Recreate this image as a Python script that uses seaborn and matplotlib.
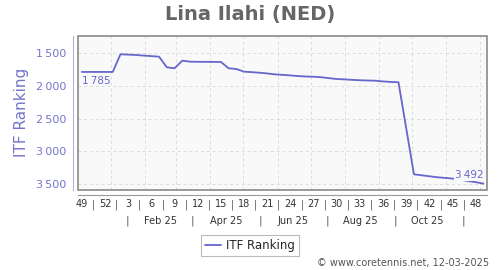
import pandas as pd
import matplotlib
matplotlib.use("Agg")
import matplotlib.pyplot as plt
import matplotlib.dates as mdates
import matplotlib.transforms as mtransforms
from matplotlib.patches import Rectangle
from matplotlib.lines import Line2D
import seaborn as sns

# === DATA ===
weeks = [49, 50, 51, 52, 1, 2, 3, 4, 5, 6, 7, 8, 9, 10, 11, 12, 13, 14, 15, 16,
         17, 18, 19, 20, 21, 22, 23, 24, 25, 26, 27, 28, 29, 30, 31, 32, 33, 34,
         35, 36, 37, 38, 39, 40, 41, 42, 43, 44, 45, 46, 47, 48, 49]
ranking = [1785, 1785, 1785, 1785, 1785, 1515, 1520, 1526, 1535, 1543, 1552,
           1714, 1729, 1613, 1628, 1630, 1631, 1632, 1632, 1729, 1740, 1781,
           1788, 1797, 1808, 1822, 1830, 1838, 1848, 1855, 1858, 1866, 1880,
           1893, 1899, 1906, 1912, 1916, 1919, 1930, 1938, 1943, 2646, 3350,
           3365, 3380, 3395, 3405, 3415, 3432, 3453, 3470, 3492]
first_week_start = "2024-12-02"
y_ticks = [1500, 2000, 2500, 3000, 3500]
month_labels = ["Feb 25", "Apr 25", "Jun 25", "Aug 25", "Oct 25"]
month_label_dates = ["2025-02-15", "2025-04-15", "2025-06-15", "2025-08-15", "2025-10-15"]
month_sep_dates = ["2025-01-16", "2025-03-16", "2025-05-16", "2025-07-16", "2025-09-16", "2025-11-16"]

line_col = "#6666cc"
tick_col = "#7474cc"

df = pd.DataFrame({
    "date": pd.date_range(first_week_start, periods=len(weeks), freq="7D") + pd.Timedelta(hours=84),
    "week": weeks,
    "rank": ranking,
})

# === FIGURE ===
sns.set_style("white")
plt.rcParams["font.family"] = ["DejaVu Sans"]
fig = plt.figure(figsize=(5, 2.7), dpi=100)
ax = fig.add_axes([0.156, 0.2963, 0.8186, 0.5722])
ax.set_facecolor("#f9f9f9")

sns.lineplot(data=df, x="date", y="rank", ax=ax, color=line_col, lw=1.3, legend=False)

x0 = pd.Timestamp(first_week_start)
ax.set_xlim(x0, x0 + pd.Timedelta(days=371))
ax.set_ylim(3590, 1228)

# grid
ax.xaxis.set_major_locator(mdates.MonthLocator())
ax.set_xticklabels([])
ax.set_yticks(y_ticks)
ax.set_yticklabels([f"{v:,}".replace(",", "\u2009") for v in y_ticks])
ax.grid(True, color="#dcdcdc", ls=(0, (3, 3)), lw=0.7)
ax.set_axisbelow(True)

# spines / frame
for s in ["top", "right"]:
    ax.spines[s].set_visible(False)
ax.spines["left"].set_position(("outward", 3.6))
ax.spines["left"].set_color("#b4b4e0")
ax.spines["bottom"].set_position(("outward", 3.6))
ax.spines["bottom"].set_color("#999999")
ax.add_patch(Rectangle((0, 0), 1, 1, transform=ax.transAxes, fill=False,
                       edgecolor="#808080", lw=1.1, clip_on=False, zorder=5))
ax.tick_params(axis="y", colors=tick_col, labelsize=8, length=3, width=0.8,
               direction="out", pad=2)
ax.tick_params(axis="x", colors="#999999", length=2, width=0.8, direction="out")
ax.set_xlabel("")
ax.set_ylabel("ITF Ranking", color=tick_col, fontsize=11, labelpad=5)

# week labels and separators
trans = mtransforms.blended_transform_factory(ax.transData, fig.transFigure)
wk_dates = df["date"].iloc[::3]
wk_labels = df["week"].iloc[::3]
for d, w in zip(wk_dates, wk_labels):
    ax.text(d, 0.243, str(w), transform=trans, ha="center", va="center",
            fontsize=7, color="#333333")
for d in (wk_dates + pd.Timedelta(days=10.5)).iloc[:-1]:
    ax.text(d, 0.243, "|", transform=trans, ha="center", va="center",
            fontsize=7, color="#555555")
for d, lab in zip(month_label_dates, month_labels):
    ax.text(pd.Timestamp(d), 0.181, lab, transform=trans, ha="center",
            va="center", fontsize=7, color="#333333")
for d in month_sep_dates:
    ax.text(pd.Timestamp(d), 0.181, "|", transform=trans, ha="center",
            va="center", fontsize=7.5, color="#555555")

# value annotations
ax.text(df["date"].iloc[0], ranking[0] + 145, f"{ranking[0]:,}".replace(",", "\u2009"),
        ha="left", va="center", fontsize=7.5, color=line_col)
ax.text(df["date"].iloc[-1], ranking[-1] - 130, f"{ranking[-1]:,}".replace(",", "\u2009"),
        ha="right", va="center", fontsize=7.5, color=line_col, zorder=4,
        bbox=dict(facecolor="#f9f9f9", edgecolor="none", pad=0.5))

# title, legend, footer
fig.text(0.5, 0.948, "Lina Ilahi (NED)", ha="center", va="center",
         fontsize=14, fontweight="bold", color="#666666")
handle = Line2D([], [], color=line_col, lw=1.3)
leg = fig.legend([handle], ["ITF Ranking"], loc="center", bbox_to_anchor=(0.5, 0.092),
                 fontsize=8.5, frameon=True, fancybox=False, edgecolor="#aaaaaa",
                 handlelength=1.4, handletextpad=0.4, borderpad=0.35)
leg.get_frame().set_linewidth(0.8)
fig.text(0.978, 0.026, "\u00a9 www.coretennis.net, 12-03-2025", ha="right",
         va="center", fontsize=7, color="#555555")

fig.savefig("out.png", dpi=100)
